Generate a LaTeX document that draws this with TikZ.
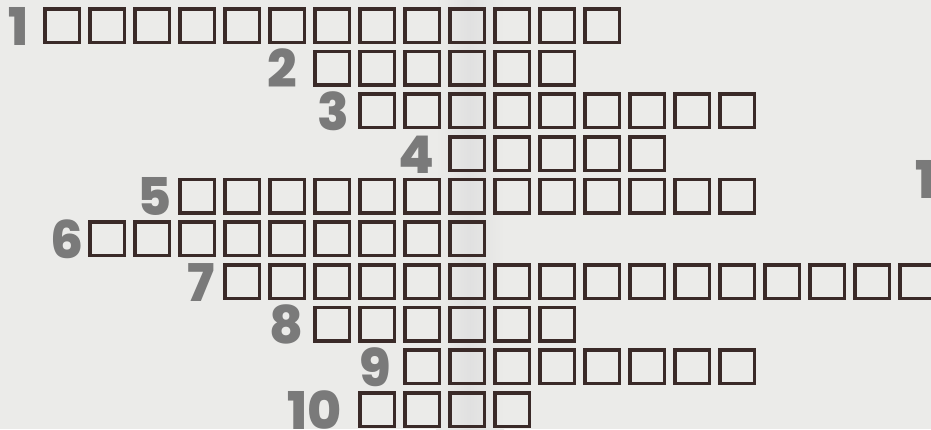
\documentclass[tikz,border=0pt]{standalone}
\usepackage{fontspec}
\setmainfont{Poppins}[BoldFont={Poppins ExtraBold}]
\definecolor{paper}{HTML}{EBEBE9}
\definecolor{ink}{HTML}{3A2A28}
\definecolor{numgray}{HTML}{7A7A7A}

\begin{document}
\begin{tikzpicture}[x=1pt, y=-1pt,
  cell/.style={draw=ink, line width=3.5pt, minimum width=34.5pt, minimum height=33.5pt, inner sep=0pt},
  clue/.style={anchor=base east, inner sep=0pt, text=numgray, font=\fontsize{52}{52}\selectfont\bfseries}]
  \useasboundingbox (0,0) rectangle (931,429);
  \clip (0,0) rectangle (931,429);
  \fill[paper] (0,0) rectangle (931,429);
  % fold of the page
  \shade[left color=paper, right color=paper, middle color=black!12] (436,0) rectangle (504,429);
  % row / first column / cells / right edge of the number
  \foreach \n/\c/\k/\e in {1/1/13/29, 2/7/6/297, 3/8/9/349, 4/10/5/435, 5/4/13/172,
                           6/2/9/84, 7/5/16/215, 8/7/6/304, 9/9/8/391, 10/8/4/342} {
    \pgfmathsetmacro{\rowy}{7+42.67*(\n-1)}
    \node[clue] (num\n) at (\e, \rowy+38) {\n};
    \foreach \i in {1,...,\k}
      \node[cell] (c\n-\i) at ({43+45*(\c+\i-2)+19}, \rowy+18.5) {};
  }
  \node[clue] (edge) at (936,198) {1};
\end{tikzpicture}
\end{document}
